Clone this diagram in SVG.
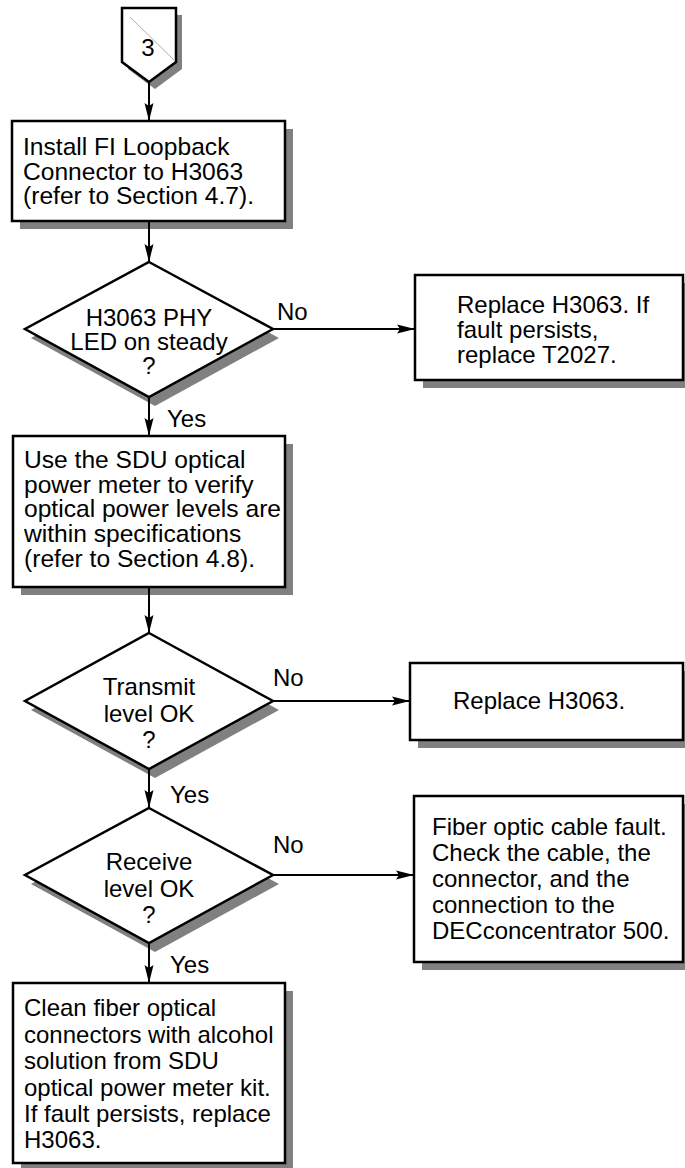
<svg xmlns="http://www.w3.org/2000/svg" width="685" height="1168" viewBox="0 0 685 1168">
  <defs>
    <marker id="arrow" viewBox="0 0 18 10" refX="18" refY="5" markerWidth="18" markerHeight="10" markerUnits="userSpaceOnUse" orient="auto">
      <path d="M0,0.5 L18,5 L0,9.5 L3,5 Z" fill="#000"/>
    </marker>
  </defs>
  <style>
    text { font-family: "Liberation Sans", Arial, Helvetica, sans-serif; font-size: 24px; fill: #000; }
    .wide { font-size: 24.6px; }
    .mid { text-anchor: middle; }
    .shadow { fill: #808080; stroke: none; }
    .shape { fill: #fff; stroke: #000; stroke-width: 2.5; stroke-linejoin: miter; }
    .flow { fill: none; stroke: #000; stroke-width: 2; marker-end: url(#arrow); }
  </style>
  <rect width="685" height="1168" fill="#fff"/>

  <!-- off-page connector 3 -->
  <g id="connector-3">
    <polygon class="shadow" points="128,15 182,15 182,69 155,89 128,69"/>
    <polygon class="shape" points="122,8 176,8 176,62 149,82 122,62"/>
    <line x1="130" y1="17" x2="174" y2="60" stroke="#999" stroke-width="0.8"/>
    <text class="mid" x="148" y="56">3</text>
  </g>

  <!-- install loopback connector -->
  <g id="install-loopback">
    <rect class="shadow" x="20" y="129" width="273" height="100"/>
    <rect class="shape" x="12" y="121" width="273" height="100"/>
    <text class="wide" x="23" y="155">Install FI Loopback</text>
    <text class="wide" x="23" y="180">Connector to H3063</text>
    <text class="wide" x="23" y="204">(refer to Section 4.7).</text>
  </g>

  <!-- decision: PHY LED -->
  <g id="phy-led-check">
    <polygon class="shadow" points="155,271 279,338 155,406 31,338"/>
    <polygon class="shape" points="149,262 273,329 149,397 25,329"/>
    <text class="mid" x="149" y="326">H3063 PHY</text>
    <text class="mid" x="149" y="350">LED on steady</text>
    <text class="mid" x="149" y="374">?</text>
  </g>

  <!-- replace H3063 / T2027 -->
  <g id="replace-h3063-t2027">
    <rect class="shadow" x="423" y="283" width="268" height="105"/>
    <rect class="shape" x="415" y="275" width="268" height="105"/>
    <text x="457" y="313">Replace H3063. If</text>
    <text x="457" y="338">fault persists,</text>
    <text x="457" y="363">replace T2027.</text>
  </g>

  <!-- optical power meter check -->
  <g id="verify-power">
    <rect class="shadow" x="21" y="444" width="272" height="151"/>
    <rect class="shape" x="13" y="436" width="272" height="151"/>
    <text class="wide" x="24" y="468">Use the SDU optical</text>
    <text class="wide" x="24" y="493">power meter to verify</text>
    <text class="wide" x="24" y="517">optical power levels are</text>
    <text class="wide" x="24" y="542">within specifications</text>
    <text class="wide" x="24" y="567">(refer to Section 4.8).</text>
  </g>

  <!-- decision: transmit level -->
  <g id="transmit-check">
    <polygon class="shadow" points="155,642 279,710 155,778 31,710"/>
    <polygon class="shape" points="149,633 273,701 149,769 25,701"/>
    <text class="mid" x="149" y="695">Transmit</text>
    <text class="mid" x="149" y="722">level OK</text>
    <text class="mid" x="149" y="748">?</text>
  </g>

  <!-- replace H3063 -->
  <g id="replace-h3063">
    <rect class="shadow" x="418" y="671" width="273" height="77"/>
    <rect class="shape" x="410" y="663" width="273" height="77"/>
    <text x="453" y="709">Replace H3063.</text>
  </g>

  <!-- decision: receive level -->
  <g id="receive-check">
    <polygon class="shadow" points="155,817 279,884 155,952 31,884"/>
    <polygon class="shape" points="149,808 273,875 149,943 25,875"/>
    <text class="mid" x="149" y="870">Receive</text>
    <text class="mid" x="149" y="897">level OK</text>
    <text class="mid" x="149" y="923">?</text>
  </g>

  <!-- fiber cable fault -->
  <g id="cable-fault">
    <rect class="shadow" x="422" y="804" width="269" height="166"/>
    <rect class="shape" x="414" y="796" width="269" height="166"/>
    <text x="432" y="835">Fiber optic cable fault.</text>
    <text x="432" y="861">Check the cable, the</text>
    <text x="432" y="887">connector, and the</text>
    <text x="432" y="913">connection to the</text>
    <text x="432" y="939">DECconcentrator 500.</text>
  </g>

  <!-- clean connectors -->
  <g id="clean-connectors">
    <rect class="shadow" x="21" y="991" width="272" height="180"/>
    <rect class="shape" x="13" y="983" width="272" height="180"/>
    <text x="24" y="1016">Clean fiber optical</text>
    <text x="24" y="1043">connectors with alcohol</text>
    <text x="24" y="1069">solution from SDU</text>
    <text x="24" y="1096">optical power meter kit.</text>
    <text x="24" y="1122">If fault persists, replace</text>
    <text x="24" y="1148">H3063.</text>
  </g>

  <!-- connectors and branch labels -->
  <g id="connectors">
    <line class="flow" x1="149" y1="83" x2="149" y2="121"/>
    <line class="flow" x1="149" y1="221" x2="149" y2="262"/>
    <line class="flow" x1="273" y1="329" x2="415" y2="329"/>
    <line class="flow" x1="149" y1="397" x2="149" y2="436"/>
    <line class="flow" x1="149" y1="587" x2="149" y2="633"/>
    <line class="flow" x1="273" y1="701" x2="410" y2="701"/>
    <line class="flow" x1="149" y1="769" x2="149" y2="808"/>
    <line class="flow" x1="273" y1="875" x2="414" y2="875"/>
    <line class="flow" x1="149" y1="943" x2="149" y2="983"/>
    <text x="277" y="320">No</text>
    <text x="167" y="427">Yes</text>
    <text x="273" y="686">No</text>
    <text x="170" y="803">Yes</text>
    <text x="273" y="853">No</text>
    <text x="170" y="973">Yes</text>
  </g>
</svg>
